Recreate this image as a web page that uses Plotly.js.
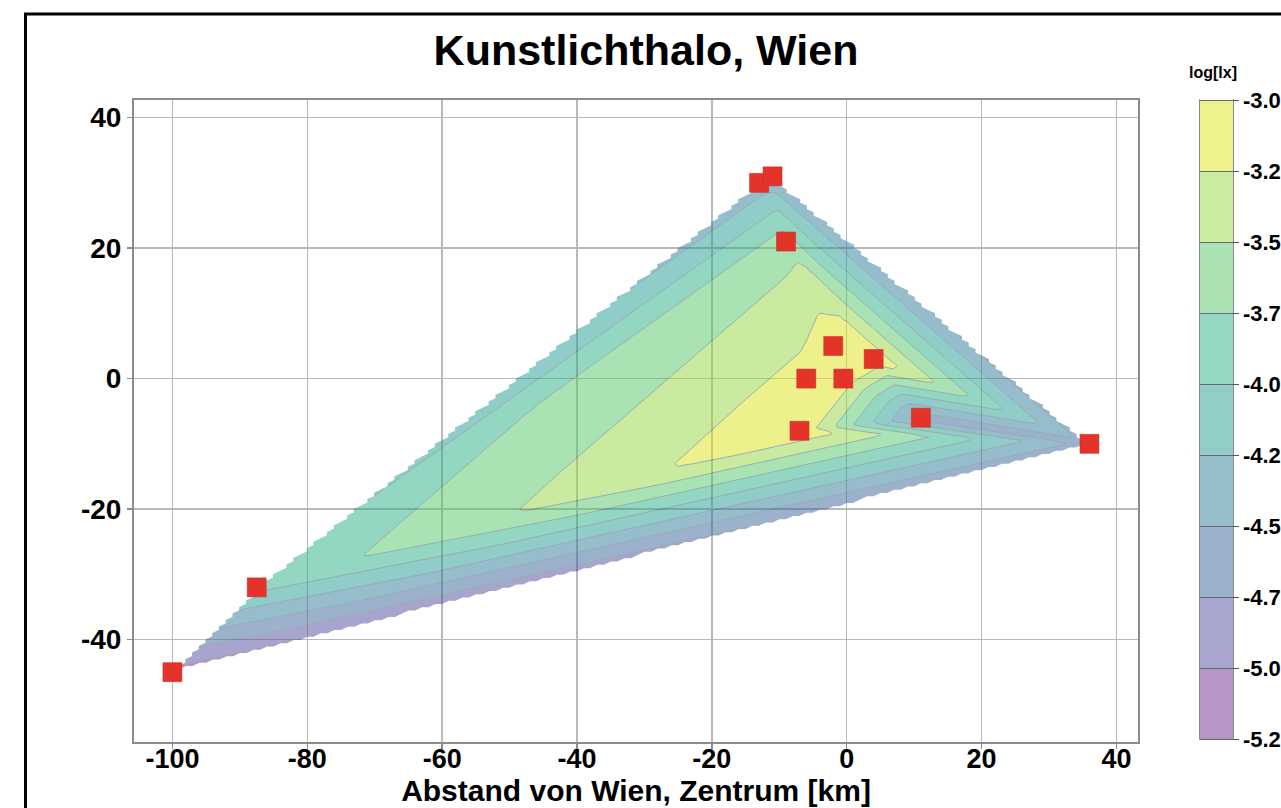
<!DOCTYPE html>
<html>
<head>
<meta charset="utf-8">
<script src="https://cdn.plot.ly/plotly-3.0.1.min.js"></script>
<style>
html,body{margin:0;padding:0;background:#fff;}
#chart{width:1281px;height:808px;}
</style>
</head>
<body>
<div id="chart"></div>
<script>
// ---- data: measuring stations (km from Vienna centre) and their values log[lx]
const stationX = [-100, -87.5, -13, -11, -9, -2, -6, -0.5, 4, -7, 11, 36];
const stationY = [-45, -32, 30, 31, 21, 5, 0, 0, 3, -8, -6, -10];
const stationLogLx = [-5.1, -3.92, -4.4, -4.45, -3.6, -3.09, -3.16, -3.08, -3.05, -3.04, -4.65, -4.6];

// contour levels and tick labels
const levelStart = -5.25, levelEnd = -3.0, levelStep = 0.25;
const colorbarTickVals = [-5.25, -5.0, -4.75, -4.5, -4.25, -4.0, -3.75, -3.5, -3.25, -3.0];
const colorbarTickText = ['-5.25', '-5.00', '-4.75', '-4.50', '-4.25', '-4.00', '-3.75', '-3.50', '-3.25', '-3.00'];
const xTickVals = [-100, -80, -60, -40, -20, 0, 20, 40];
const xTickText = ['-100', '-80', '-60', '-40', '-20', '0', '20', '40'];
const yTickVals = [-40, -20, 0, 20, 40];
const yTickText = ['-40', '-20', '0', '20', '40'];

// ---- style
const FONT = 'Liberation Sans, Arial, Helvetica, sans-serif';
const bandColors = [ // pale (as seen on white), bottom band first
  [182,150,198],[168,166,206],[156,178,204],[150,190,203],[146,205,200],
  [148,215,194],[170,226,180],[202,235,160],[238,241,140]
];
const fillAlpha = 0.5;

// ---- Delaunay triangulation (Bowyer-Watson) of the stations
function delaunay(px, py) {
  const n = px.length;
  const P = px.map((x, i) => [x, py[i]]);
  const minX = Math.min(...px), maxX = Math.max(...px), minY = Math.min(...py), maxY = Math.max(...py);
  const d = Math.max(maxX - minX, maxY - minY) * 1000;
  const cx = (minX + maxX) / 2, cy = (minY + maxY) / 2;
  P.push([cx - d, cy - d], [cx + d, cy - d], [cx, cy + d]);
  function circ(t) {
    const [ax, ay] = P[t[0]], [bx, by] = P[t[1]], [qx, qy] = P[t[2]];
    const D = 2 * (ax * (by - qy) + bx * (qy - ay) + qx * (ay - by));
    const ux = ((ax*ax+ay*ay)*(by-qy) + (bx*bx+by*by)*(qy-ay) + (qx*qx+qy*qy)*(ay-by)) / D;
    const uy = ((ax*ax+ay*ay)*(qx-bx) + (bx*bx+by*by)*(ax-qx) + (qx*qx+qy*qy)*(bx-ax)) / D;
    return [ux, uy, (ax-ux)*(ax-ux) + (ay-uy)*(ay-uy)];
  }
  let tris = [{v: [n, n+1, n+2]}];
  tris[0].c = circ(tris[0].v);
  for (let i = 0; i < n; i++) {
    const [x, y] = P[i];
    const bad = [], good = [];
    for (const t of tris) {
      const dx = x - t.c[0], dy = y - t.c[1];
      if (dx*dx + dy*dy < t.c[2]) bad.push(t); else good.push(t);
    }
    const edges = [];
    for (const t of bad) {
      const e3 = [[t.v[0], t.v[1]], [t.v[1], t.v[2]], [t.v[2], t.v[0]]];
      for (const e of e3) {
        const shared = bad.some(o => o !== t && o.v.includes(e[0]) && o.v.includes(e[1]));
        if (!shared) edges.push(e);
      }
    }
    tris = good;
    for (const e of edges) { const t = {v: [e[0], e[1], i]}; t.c = circ(t.v); tris.push(t); }
  }
  return tris.filter(t => t.v.every(k => k < n)).map(t => t.v);
}
const triangles = delaunay(stationX, stationY);

// linear interpolation on the triangulation (like the original's gridded field)
function interp(x, y) {
  for (const t of triangles) {
    const x1 = stationX[t[0]], y1 = stationY[t[0]];
    const x2 = stationX[t[1]], y2 = stationY[t[1]];
    const x3 = stationX[t[2]], y3 = stationY[t[2]];
    const det = (y2 - y3) * (x1 - x3) + (x3 - x2) * (y1 - y3);
    const l1 = ((y2 - y3) * (x - x3) + (x3 - x2) * (y - y3)) / det;
    const l2 = ((y3 - y1) * (x - x3) + (x1 - x3) * (y - y3)) / det;
    const l3 = 1 - l1 - l2;
    const eps = 1e-9;
    if (l1 >= -eps && l2 >= -eps && l3 >= -eps) {
      return l1 * stationLogLx[t[0]] + l2 * stationLogLx[t[1]] + l3 * stationLogLx[t[2]];
    }
  }
  return null;
}
const gridX = [], gridY = [];
for (let i = 0; i <= 136; i++) gridX.push(-100 + i * 1.0);
for (let j = 0; j <= 152; j++) gridY.push(-45 + j * 0.5);
const zGrid = gridY.map(y => gridX.map(x => interp(x, y)));

// colorscales
const rgb = c => 'rgb(' + c.map(v => Math.round(v)).join(',') + ')';
const baseOf = c => c.map(v => Math.max(0, Math.min(255, (v - 255 * (1 - fillAlpha)) / fillAlpha)));
const plotScale = [[0, rgb(baseOf(bandColors[0]))]];
bandColors.forEach((c, k) => plotScale.push([(k + 1) / 10, rgb(baseOf(c))]));
plotScale.push([1, rgb(baseOf(bandColors[8]))]);
const barScale = [[0, 'rgba(255,255,255,0)']];
bandColors.forEach((c, k) => barScale.push([(k + 1) / 10, rgb(c)]));
barScale.push([1, 'rgba(255,255,255,0)']);

const contourCommon = {
  type: 'contour', x: gridX, y: gridY, z: zGrid, connectgaps: false,
  autocontour: false,
  contours: {start: levelStart, end: levelEnd, size: levelStep, coloring: 'fill', showlines: true},
  hoverinfo: 'skip'
};

// plot geometry (pixels)
const L = 134, R = 1138, T = 100, B = 742, W = 1281, H = 808;
const pw = R - L, ph = B - T;
const px2x = p => (p - L) / pw;
const py2y = p => (B - p) / ph;

const traces = [
  Object.assign({}, contourCommon, {
    colorscale: plotScale, opacity: fillAlpha, showscale: false,
    line: {color: '#2f5a66', width: 1}
  }),
  Object.assign({}, contourCommon, {
    colorscale: barScale, opacity: 0, showscale: true,
    line: {color: '#5d6e78', width: 1},
    colorbar: {
      x: px2x(1200), xanchor: 'left', xpad: 0,
      y: py2y((T + 739) / 2), yanchor: 'middle', ypad: 0,
      lenmode: 'pixels', len: (739 - T) * 2.5 / 2.25,
      thicknessmode: 'pixels', thickness: 33,
      outlinewidth: 0,
      tickmode: 'array', tickvals: colorbarTickVals, ticktext: colorbarTickText,
      ticks: 'outside', ticklen: 6, tickcolor: '#555', tickwidth: 1,
      tickfont: {family: FONT, size: 22, color: '#000', weight: 'bold'}
    }
  }),
  {
    type: 'scatter', mode: 'markers', x: stationX, y: stationY, hoverinfo: 'skip',
    marker: {symbol: 'square', size: 19, color: '#e4342a', line: {color: '#c8261d', width: 0.5}},
    showlegend: false
  }
];

const axisCommon = {
  showgrid: true, gridcolor: '#b9b9b9', gridwidth: 1.5,
  showline: true, mirror: true, linecolor: '#8c8c8c', linewidth: 2,
  zeroline: false, ticks: 'outside', ticklen: 5, tickcolor: '#8c8c8c', tickwidth: 1.5,
  tickfont: {family: FONT, size: 28, color: '#000', weight: 'bold'},
  tickmode: 'array'
};

const layout = {
  width: W, height: H,
  margin: {l: L, r: W - R, t: T, b: H - B, pad: 0, autoexpand: false},
  paper_bgcolor: '#fff', plot_bgcolor: '#fff',
  showlegend: false,
  title: {
    text: 'Kunstlichthalo, Wien',
    font: {family: FONT, size: 43, color: '#000', weight: 'bold'},
    xref: 'paper', x: px2x(646), xanchor: 'center',
    yref: 'container', y: 1 - 50 / H, yanchor: 'middle'
  },
  xaxis: Object.assign({}, axisCommon, {
    range: [-105.7, 43.2], tickvals: xTickVals, ticktext: xTickText,
    ticklabelstandoff: -13,
    tickfont: {family: FONT, size: 27, color: '#000', weight: 'bold'},
    title: {text: 'Abstand von Wien, Zentrum [km]', standoff: 6,
            font: {family: FONT, size: 30, color: '#000', weight: 'bold'}}
  }),
  yaxis: Object.assign({}, axisCommon, {
    range: [-55.7, 42.7], tickvals: yTickVals, ticktext: yTickText
  }),
  annotations: [{
    text: 'log[lx]', xref: 'paper', yref: 'paper', x: px2x(1213), y: py2y(72),
    xanchor: 'center', yanchor: 'middle', showarrow: false,
    font: {family: FONT, size: 16, color: '#000', weight: 'bold'}
  }],
  shapes: [
    {type: 'rect', xref: 'paper', yref: 'paper', x0: px2x(1200), x1: px2x(1233),
     y0: py2y(739), y1: py2y(T), line: {color: '#666', width: 1.5}, fillcolor: 'rgba(0,0,0,0)'},
    {type: 'rect', xref: 'paper', yref: 'paper', x0: px2x(25.5), x1: px2x(1300),
     y0: py2y(830), y1: py2y(14), line: {color: '#000', width: 3}, fillcolor: 'rgba(0,0,0,0)'}
  ]
};

Plotly.newPlot('chart', traces, layout, {displayModeBar: false, staticPlot: true});
</script>
</body>
</html>
